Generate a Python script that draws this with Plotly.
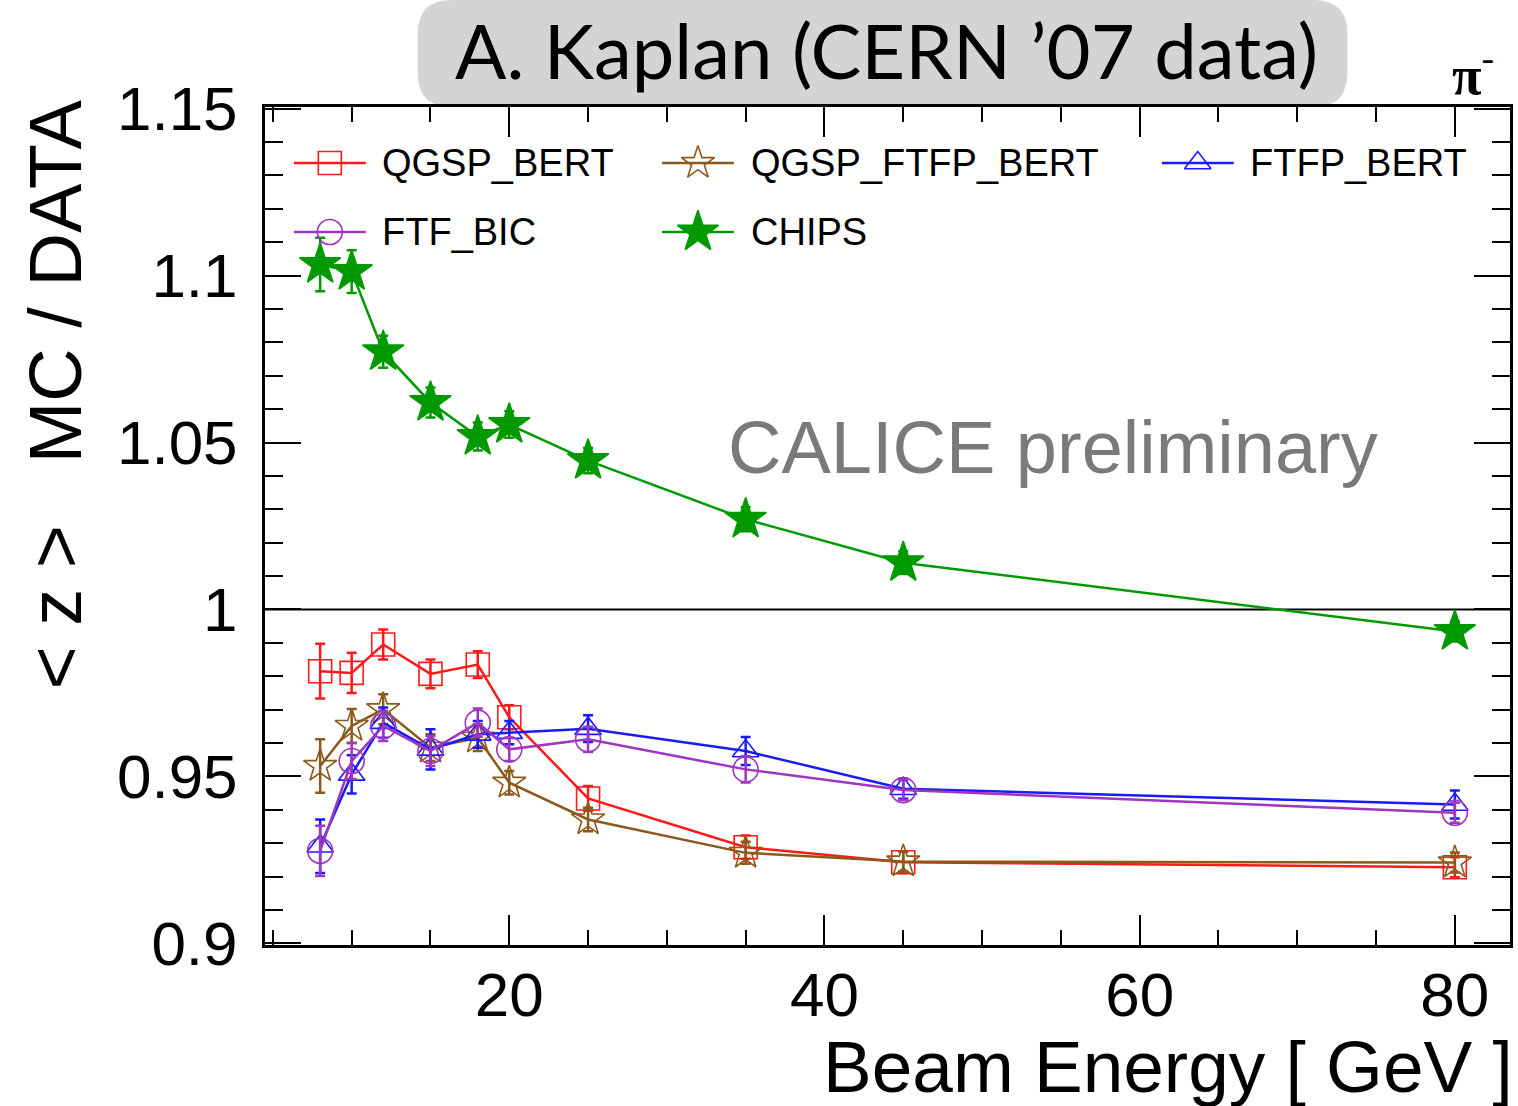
import plotly.graph_objects as go

# ---------------- data ----------------
energy = [8, 10, 12, 15, 18, 20, 25, 35, 45, 80]

qgsp_bert = [0.9815, 0.9810, 0.9895, 0.9807, 0.9835, 0.9677, 0.9434, 0.9288, 0.9243, 0.9228]
qgsp_bert_err = [0.0082, 0.0060, 0.0045, 0.0043, 0.0040, 0.0036, 0.0037, 0.0035, 0.0032, 0.0030]

qgsp_ftfp_bert = [0.9531, 0.9651, 0.9701, 0.9586, 0.9616, 0.9481, 0.9371, 0.9271, 0.9245, 0.9242]
qgsp_ftfp_bert_err = [0.0080, 0.0051, 0.0045, 0.0040, 0.0040, 0.0035, 0.0035, 0.0033, 0.0030, 0.0030]

ftfp_bert = [0.9291, 0.9506, 0.9661, 0.9581, 0.9626, 0.9631, 0.9643, 0.9576, 0.9463, 0.9416]
ftfp_bert_err = [0.0080, 0.0057, 0.0045, 0.0060, 0.0040, 0.0035, 0.0040, 0.0042, 0.0030, 0.0042]

ftf_bic = [0.9277, 0.9546, 0.9651, 0.9576, 0.9661, 0.9581, 0.9611, 0.9521, 0.9459, 0.9391]
ftf_bic_err = [0.0075, 0.0054, 0.0045, 0.0045, 0.0042, 0.0035, 0.0038, 0.0039, 0.0030, 0.0030]

chips = [1.1033, 1.1012, 1.0772, 1.0620, 1.0518, 1.0554, 1.0446, 1.0270, 1.0140, 0.9934]
chips_err = [0.0080, 0.0064, 0.0048, 0.0045, 0.0042, 0.0040, 0.0038, 0.0036, 0.0034, 0.0030]

series_names = ["QGSP_BERT", "QGSP_FTFP_BERT", "FTFP_BERT", "FTF_BIC", "CHIPS"]
y_ticks = [0.9, 0.95, 1.0, 1.05, 1.1, 1.15]
y_tick_text = ["0.9", "0.95", "1", "1.05", "1.1", "1.15"]
x_ticks = [20, 40, 60, 80]

# ---------------- styles ----------------
W, H = 1518, 1106
L, R, T, B = 265, 5, 107, 161
PW, PH = W - L - R, H - T - B
BOT = H - B


def px(xp):
    return (xp - L) / PW


def py(yp):
    return (BOT - yp) / PH


styles = {
    "QGSP_BERT": dict(color="#ff1a1a", symbol="square-open", size=23),
    "QGSP_FTFP_BERT": dict(color="#8b5a1a", symbol="star-open", size=25),
    "FTFP_BERT": dict(color="#1a1aff", symbol="triangle-up-open", size=23),
    "FTF_BIC": dict(color="#a035c0", symbol="circle-open", size=25),
    "CHIPS": dict(color="#009a00", symbol="star", size=31),
}
data = {
    "QGSP_BERT": (qgsp_bert, qgsp_bert_err),
    "QGSP_FTFP_BERT": (qgsp_ftfp_bert, qgsp_ftfp_bert_err),
    "FTFP_BERT": (ftfp_bert, ftfp_bert_err),
    "FTF_BIC": (ftf_bic, ftf_bic_err),
    "CHIPS": (chips, chips_err),
}

fig = go.Figure()

for name in series_names:
    vals, errs = data[name]
    st = styles[name]
    fig.add_trace(go.Scatter(
        x=energy, y=vals, name=name, mode="lines+markers",
        line=dict(color=st["color"], width=2.5),
        marker=dict(symbol=st["symbol"], size=st["size"], color=st["color"],
                    line=dict(color=st["color"], width=1.6)),
        error_y=dict(type="data", array=errs, visible=True, color=st["color"],
                     thickness=2.5, width=5),
        showlegend=False,
    ))

# ---------------- manual legend (auxiliary axes in plot fraction) ----------------
legend_pos = {
    "QGSP_BERT": (330, 163, 380),
    "QGSP_FTFP_BERT": (699, 163, 750),
    "FTFP_BERT": (1200, 163, 1250),
    "FTF_BIC": (330, 232, 380),
    "CHIPS": (699, 232, 750),
}
annotations = []
for name in series_names:
    cx, cy, tx = legend_pos[name]
    st = styles[name]
    fig.add_trace(go.Scatter(
        x=[px(cx - 36), px(cx + 36)], y=[py(cy), py(cy)], mode="lines",
        line=dict(color=st["color"], width=2.5), xaxis="x2", yaxis="y2",
        showlegend=False, hoverinfo="skip"))
    fig.add_trace(go.Scatter(
        x=[px(cx)], y=[py(cy)], mode="markers",
        marker=dict(symbol=st["symbol"], size=st["size"], color=st["color"],
                    line=dict(color=st["color"], width=1.6)),
        xaxis="x2", yaxis="y2", showlegend=False, hoverinfo="skip"))
    annotations.append(dict(
        x=px(tx), y=py(cy), xref="paper", yref="paper", text=name,
        showarrow=False, xanchor="left", yanchor="middle",
        font=dict(family="Liberation Sans", size=38, color="black")))

# ---------------- texts ----------------
annotations += [
    dict(x=px(888), y=py(50), xref="paper", yref="paper",
         text="A. Kaplan (CERN \u201907 data)", showarrow=False,
         xanchor="center", yanchor="middle",
         font=dict(family="Lato", size=76, color="black")),
    dict(x=px(1476), y=py(72), xref="paper", yref="paper",
         text="<b>\u03c0</b><sup>-</sup>", showarrow=False,
         xanchor="center", yanchor="middle",
         font=dict(family="Liberation Serif", size=54, color="black")),
    dict(x=px(1055), y=py(447), xref="paper", yref="paper",
         text="CALICE preliminary", showarrow=False,
         xanchor="center", yanchor="middle",
         font=dict(family="Liberation Sans", size=74, color="#7a7a7a")),
    dict(x=px(1518), y=py(1066), xref="paper", yref="paper",
         text="Beam Energy [ GeV ]", showarrow=False,
         xanchor="right", yanchor="middle",
         font=dict(family="Liberation Sans", size=73, color="black")),
    dict(x=px(54), y=py(395), xref="paper", yref="paper",
         text="&lt; z &gt;\u00a0\u00a0\u00a0MC / DATA", showarrow=False,
         textangle=-90, xanchor="center", yanchor="middle",
         font=dict(family="Liberation Sans", size=74, color="black")),
]

# rounded title box
bx0, bx1, by0, by1, r = 418, 1350, 0, 107, 34
rx, ry = r / PW, r / PH
X0, X1, Y0, Y1 = px(bx0), px(bx1), py(by1), py(by0)
path = (f"M {X0+rx},{Y0} L {X1-rx},{Y0} Q {X1},{Y0} {X1},{Y0+ry} "
        f"L {X1},{Y1-ry} Q {X1},{Y1} {X1-rx},{Y1} L {X0+rx},{Y1} "
        f"Q {X0},{Y1} {X0},{Y1-ry} L {X0},{Y0+ry} Q {X0},{Y0} {X0+rx},{Y0} Z")

fig.update_layout(
    width=W, height=H,
    margin=dict(l=L, r=R, t=T, b=B),
    paper_bgcolor="white", plot_bgcolor="white",
    font=dict(family="Liberation Sans", color="black"),
    annotations=annotations,
    shapes=[
        dict(type="path", path=path, xref="paper", yref="paper",
             fillcolor="#d4d4d4", line=dict(width=0), layer="below"),
        dict(type="line", xref="paper", yref="y", x0=0, x1=1, y0=1.0, y1=1.0,
             line=dict(color="black", width=2), layer="below"),
    ],
    xaxis=dict(
        range=[4.5, 83.5], tickvals=x_ticks, ticks="inside", ticklen=30,
        tickwidth=2, tickcolor="black", showline=True, linecolor="black",
        linewidth=3, mirror="allticks", showgrid=False, zeroline=False,
        tickfont=dict(size=62, family="Liberation Sans"),
        ticklabelstandoff=-6,
        minor=dict(dtick=5, tick0=0, ticks="inside", ticklen=15,
                   tickwidth=2, tickcolor="black", showgrid=False),
    ),
    yaxis=dict(
        range=[0.8995, 1.1505], tickvals=y_ticks, ticktext=y_tick_text,
        ticks="inside", ticklen=36,
        tickwidth=2, tickcolor="black", showline=True, linecolor="black",
        linewidth=3, mirror="allticks", showgrid=False, zeroline=False,
        tickfont=dict(size=62, family="Liberation Sans"),
        ticklabelstandoff=12,
        minor=dict(dtick=0.01, tick0=0.9, ticks="inside", ticklen=18,
                   tickwidth=2, tickcolor="black", showgrid=False),
    ),
    xaxis2=dict(overlaying="x", range=[0, 1], visible=False),
    yaxis2=dict(overlaying="y", range=[0, 1], visible=False),
)

fig.write_html("out.html")
